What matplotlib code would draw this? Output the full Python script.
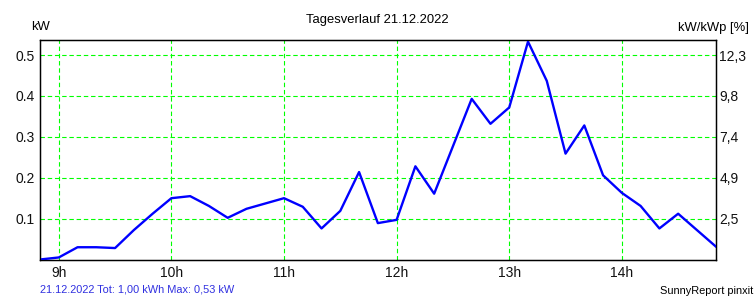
import matplotlib
matplotlib.use("Agg")
import matplotlib.pyplot as plt

plt.rcParams['font.family'] = ['Liberation Sans', 'DejaVu Sans']

# 10-minute values, 8:50 .. 14:50
times = ["08:50", "09:00", "09:10", "09:20", "09:30", "09:40", "09:50",
         "10:00", "10:10", "10:20", "10:30", "10:40", "10:50",
         "11:00", "11:10", "11:20", "11:30", "11:40", "11:50",
         "12:00", "12:10", "12:20", "12:30", "12:40", "12:50",
         "13:00", "13:10", "13:20", "13:30", "13:40", "13:50",
         "14:00", "14:10", "14:20", "14:30", "14:40", "14:50"]
power_kw = [0.0, 0.005, 0.030, 0.030, 0.028, 0.072, 0.112,
            0.150, 0.155, 0.131, 0.102, 0.124, 0.137,
            0.150, 0.129, 0.076, 0.119, 0.214, 0.089,
            0.097, 0.228, 0.161, 0.277, 0.393, 0.332,
            0.372, 0.533, 0.437, 0.259, 0.328, 0.206,
            0.163, 0.131, 0.076, 0.112, 0.072, 0.032]

hour_ticks = [9, 10, 11, 12, 13, 14]
hour_labels = ["9h", "10h", "11h", "12h", "13h", "14h"]
kw_ticks = [0.1, 0.2, 0.3, 0.4, 0.5]
kw_labels = ["0.1", "0.2", "0.3", "0.4", "0.5"]
pct_labels = ["2,5", "4,9", "7,4", "9,8", "12,3"]

# convert "hh:mm" to decimal hours
hours = [int(t[:2]) + int(t[3:]) / 60 for t in times]

fig = plt.figure(figsize=(7.56, 3.0), dpi=100)
W, H = 756, 300
left, right, top, bottom = 40, 715.7, 40, 259.5
ax = fig.add_axes([left / W, 1 - bottom / H, (right - left) / W, (bottom - top) / H])

ax.plot(hours, power_kw, color='#0000ff', linewidth=1.7, zorder=3)

ax.set_xlim(hours[0], hours[-1])
ax.set_ylim(0, 0.537)
ax.set_xticks(hour_ticks)
ax.set_xticklabels(hour_labels)
ax.set_yticks(kw_ticks)
ax.set_yticklabels(kw_labels)
ax.tick_params(axis='both', length=0, labelsize=10, colors='#111111')
ax.tick_params(axis='x', pad=5)
ax.tick_params(axis='y', pad=4)
ax.grid(True, color='#00ff00', linestyle=(0, (4, 2.5)), linewidth=0.8)
for s in ax.spines.values():
    s.set_linewidth(1.0)
    s.set_color('black')

ax2 = ax.twinx()
ax2.set_ylim(ax.get_ylim())
ax2.set_yticks(kw_ticks)
ax2.set_yticklabels(pct_labels)
ax2.tick_params(axis='y', length=0, labelsize=10, pad=2.5, colors='#111111')

fig.text(377 / W, 1 - 20 / H, "Tagesverlauf 21.12.2022", ha='center', va='center', fontsize=9.4)
fig.text(31 / W, 1 - 27 / H, "kW", ha='left', va='center', fontsize=9.4)
fig.text(749 / W, 1 - 28 / H, "kW/kWp [%]", ha='right', va='center', fontsize=9.4)
fig.text(40 / W, 1 - 289 / H, "21.12.2022 Tot: 1,00 kWh Max: 0,53 kW", ha='left', va='center',
         fontsize=7.9, color='#3030e0')
fig.text(753 / W, 1 - 291 / H, "SunnyReport pinxit", ha='right', va='center', fontsize=7.9)

fig.savefig("out.png", dpi=100)
